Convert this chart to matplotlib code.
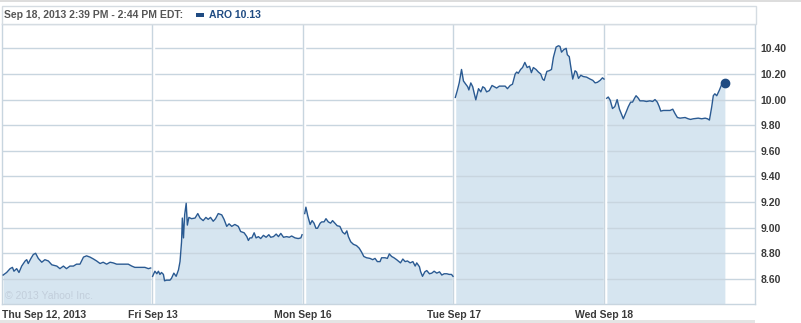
import matplotlib.pyplot as plt
from matplotlib.patches import Rectangle

# day labels and y ticks
days = ["Thu Sep 12, 2013", "Fri Sep 13", "Mon Sep 16", "Tue Sep 17", "Wed Sep 18"]
yticks = [8.60, 8.80, 9.00, 9.20, 9.40, 9.60, 9.80, 10.00, 10.20, 10.40]

# minutes after the 9:30 open, and price, for each session
thu_min = [3, 12, 21, 27, 31, 38, 44, 51, 60, 64, 68, 75, 81, 87, 94, 103, 111, 120, 129, 142,
           150, 159, 167, 176, 185, 193, 202, 211, 219, 228, 237, 245, 254, 262, 271, 280, 288,
           297, 306, 314, 327, 336, 344, 353, 362, 370, 379, 385]
thu_px = [8.63, 8.65, 8.68, 8.69, 8.66, 8.68, 8.65, 8.70, 8.74, 8.75, 8.72, 8.76, 8.79, 8.80,
          8.76, 8.73, 8.75, 8.74, 8.71, 8.70, 8.68, 8.70, 8.68, 8.70, 8.70, 8.715, 8.715, 8.77,
          8.78, 8.77, 8.755, 8.74, 8.72, 8.73, 8.715, 8.73, 8.725, 8.715, 8.715, 8.715, 8.715,
          8.70, 8.69, 8.69, 8.69, 8.69, 8.68, 8.685]

fri_min = [0, 6, 11, 15, 19, 23, 28, 31, 36, 45, 49, 55, 61, 67, 71, 75, 77, 80, 83, 87,
           90, 94, 101, 110, 117, 123, 131, 138, 144, 150, 157, 163, 170, 179, 185, 192, 198,
           205, 213, 222, 228, 237, 244, 248, 252, 257, 263, 268, 274, 280, 287, 294, 301, 306,
           313, 320, 326, 332, 339, 347, 354, 360, 369, 377, 384, 387]
fri_px = [8.62, 8.66, 8.64, 8.66, 8.635, 8.65, 8.635, 8.585, 8.59, 8.59, 8.605, 8.645, 8.62,
          8.67, 8.735, 8.89, 9.075, 8.92, 9.10, 9.19, 9.02, 9.08, 9.07, 9.075, 9.11, 9.075,
          9.055, 9.08, 9.065, 9.08, 9.05, 9.07, 9.11, 9.10, 9.065, 9.01, 9.03, 9.01, 9.025,
          9.01, 8.97, 8.96, 8.93, 8.90, 8.92, 8.92, 8.96, 8.92, 8.93, 8.915, 8.94, 8.925,
          8.945, 8.925, 8.93, 8.95, 8.93, 8.955, 8.925, 8.93, 8.925, 8.935, 8.92, 8.915,
          8.92, 8.945]

mon_min = [4, 7, 12, 18, 23, 28, 33, 37, 44, 48, 54, 59, 65, 71, 76, 82, 88, 95, 102, 108,
           113, 117, 123, 130, 138, 145, 151, 157, 164, 173, 180, 186, 192, 199, 203, 212,
           218, 223, 229, 235, 242, 248, 252, 258, 264, 270, 277, 284, 290, 294, 301, 304,
           309, 315, 320, 327, 333, 339, 346, 353, 359, 365, 372, 378, 384, 388]
mon_px = [9.11, 9.16, 9.09, 9.025, 9.055, 9.035, 8.995, 8.995, 9.035, 9.045, 9.045, 9.07,
          9.045, 9.035, 9.055, 9.035, 9.015, 9.01, 8.965, 8.95, 8.975, 8.93, 8.89, 8.87, 8.86,
          8.84, 8.81, 8.775, 8.765, 8.76, 8.75, 8.76, 8.735, 8.735, 8.765, 8.765, 8.76, 8.795,
          8.775, 8.765, 8.75, 8.735, 8.725, 8.755, 8.735, 8.74, 8.725, 8.735, 8.70, 8.725,
          8.695, 8.657, 8.62, 8.655, 8.665, 8.64, 8.645, 8.66, 8.645, 8.655, 8.63, 8.64, 8.64,
          8.635, 8.635, 8.62]

tue_min = [4, 9, 14, 20, 25, 31, 36, 39, 44, 49, 52, 57, 64, 70, 75, 80, 85, 92, 99, 105,
           111, 118, 124, 133, 139, 146, 152, 159, 163, 167, 173, 178, 184, 190, 196, 201,
           206, 213, 219, 225, 230, 234, 241, 247, 253, 258, 265, 271, 275, 279, 285, 291,
           294, 299, 303, 308, 314, 318, 323, 329, 335, 344, 353, 360, 366, 372, 379, 385, 389]
tue_px = [10.017, 10.07, 10.13, 10.235, 10.145, 10.12, 10.10, 10.075, 10.13, 10.10, 10.06,
          9.998, 10.085, 10.06, 10.10, 10.09, 10.06, 10.07, 10.11, 10.10, 10.09, 10.105,
          10.105, 10.105, 10.085, 10.11, 10.12, 10.20, 10.215, 10.205, 10.235, 10.25, 10.29,
          10.25, 10.26, 10.21, 10.25, 10.235, 10.215, 10.20, 10.16, 10.15, 10.22, 10.225,
          10.235, 10.33, 10.41, 10.42, 10.415, 10.37, 10.39, 10.40, 10.35, 10.335, 10.255,
          10.16, 10.225, 10.215, 10.165, 10.19, 10.18, 10.175, 10.16, 10.15, 10.13, 10.135,
          10.15, 10.17, 10.16]

wed_min = [6, 10, 15, 21, 27, 33, 39, 45, 49, 56, 62, 68, 73, 78, 82, 88, 92, 101, 109, 118,
           125, 131, 137, 142, 146, 153, 161, 170, 177, 183, 189, 196, 209, 217, 223, 230,
           243, 252, 261, 267, 272, 278, 282, 286, 291, 298, 304, 312]
wed_px = [10.01, 10.02, 9.995, 9.93, 9.945, 10.00, 9.925, 9.88, 9.85, 9.90, 9.945, 9.98,
          9.98, 10.01, 10.03, 10.01, 9.99, 9.99, 9.985, 9.99, 9.985, 10.00, 9.98, 9.945, 9.91,
          9.915, 9.915, 9.915, 9.925, 9.89, 9.86, 9.855, 9.86, 9.85, 9.845, 9.85, 9.855, 9.85,
          9.855, 9.85, 9.84, 9.945, 10.03, 10.045, 10.03, 10.075, 10.12, 10.13]

sessions = [(thu_min, thu_px), (fri_min, fri_px), (mon_min, mon_px),
            (tue_min, tue_px), (wed_min, wed_px)]
DAY = 390

line_c = "#2a5a92"
fill_c = "#d6e5f0"
grid_c = "#c8d5df"
text_c = "#3a3a3a"
fs = 7.5
plt.rcParams["font.family"] = ["Liberation Sans", "DejaVu Sans"]

fig = plt.figure(figsize=(8.01, 3.23), dpi=100)
W, H = 801, 323
ax = fig.add_axes([2 / W, 1 - 304 / H, 753 / W, 280 / H])

for i, (m, p) in enumerate(sessions):
    x = [i * DAY + v for v in m]
    ax.fill_between(x, p, 8.0, color=fill_c, lw=0, zorder=1)
    ax.plot(x, p, color=line_c, lw=1.0, zorder=4)

last_x = 4 * DAY + wed_min[-1]
ax.plot(last_x, wed_px[-1], "o", color="#1f4b82", ms=6, zorder=5)

for y in yticks:
    ax.axhline(y, color=grid_c, lw=1, zorder=2)
for b in range(1, 5):
    ax.axvline(b * DAY + 1, color="white", lw=2.5, zorder=2.5)
    ax.axvline(b * DAY - 1, color=grid_c, lw=1, zorder=2.6)

ax.set_xlim(0, 5 * DAY)
ax.set_ylim(8.404, 10.59)

ax.yaxis.tick_right()
ax.set_yticks(yticks)
ax.set_yticklabels(["%.2f" % v for v in yticks])
ax.set_xticks([i * DAY for i in range(5)])
ax.set_xticklabels(days)
ax.tick_params(axis="both", length=0, labelsize=fs, labelcolor=text_c)
ax.tick_params(axis="y", pad=4)
ax.tick_params(axis="x", pad=4)
for lab in ax.get_xticklabels() + ax.get_yticklabels():
    lab.set_fontweight("bold")
ax.get_xticklabels()[0].set_ha("left")
for s in ax.spines.values():
    s.set_color(grid_c)
    s.set_linewidth(1)

# copyright
fig.text(5 / W, 1 - 296 / H, "\u00a9 2013 Yahoo! Inc.", color="#c2cedb", fontsize=7.5,
         va="center")

# header box
fig.patches.append(Rectangle((2 / W, 1 - 24 / H), 754 / W, 18 / H, transform=fig.transFigure,
                             facecolor="white", edgecolor="#d5dce2", lw=1))
fig.patches.append(Rectangle((0, 1 - 1.5 / H), 1, 1.5 / H, transform=fig.transFigure,
                             facecolor="#dddddd", edgecolor="none"))
fig.patches.append(Rectangle((0, 0), 755 / W, 3 / H, transform=fig.transFigure,
                             facecolor="#e4e4e4", edgecolor="none"))
fig.text(4 / W, 1 - 15.5 / H, "Sep 18, 2013 2:39 PM - 2:44 PM EDT:", color="#555555",
         fontsize=fs, fontweight="bold", va="center")
fig.patches.append(Rectangle((196 / W, 1 - 17 / H), 8 / W, 4 / H, transform=fig.transFigure,
                             facecolor="#1f4b82", edgecolor="none"))
fig.text(209 / W, 1 - 15.5 / H, "ARO 10.13", color="#1f4b82", fontsize=fs,
         fontweight="bold", va="center")

fig.savefig("out.png", dpi=100)
